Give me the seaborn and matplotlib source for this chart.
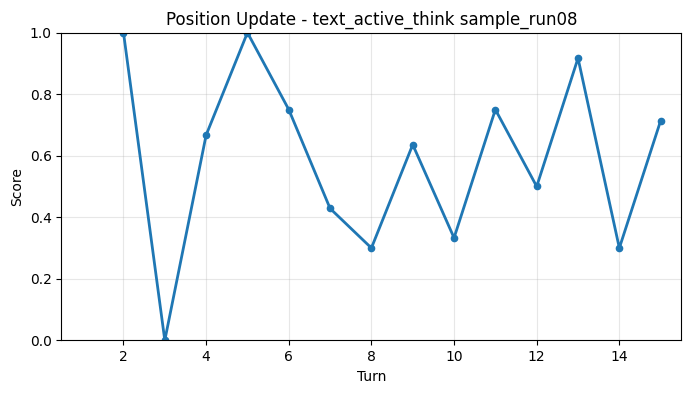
import matplotlib
matplotlib.use("Agg")
import matplotlib.pyplot as plt
import seaborn as sns
import pandas as pd

turns = [2, 3, 4, 5, 6, 7, 8, 9, 10, 11, 12, 13, 14, 15]
scores = [1.0, 0.0, 0.667, 1.0, 0.75, 0.4286, 0.3, 0.636, 0.333, 0.75, 0.5, 0.917, 0.3, 0.714]

df = pd.DataFrame({"Turn": turns, "Score": scores})

fig = plt.figure(figsize=(6.91, 3.93), dpi=100)
ax = fig.add_axes([0.089, 0.134, 0.897, 0.783])
sns.lineplot(data=df, x="Turn", y="Score", ax=ax, color="#1f77b4", linewidth=2,
             marker="o", markersize=4.5, markeredgewidth=1, markeredgecolor="#1f77b4")
ax.set_xlim(0.5, 15.5)
ax.set_ylim(0, 1)
ax.grid(True, alpha=0.3)
ax.set_title("Position Update - text_active_think sample_run08")
ax.set_xlabel("Turn")
ax.set_ylabel("Score")
fig.savefig("out.png", dpi=100)
